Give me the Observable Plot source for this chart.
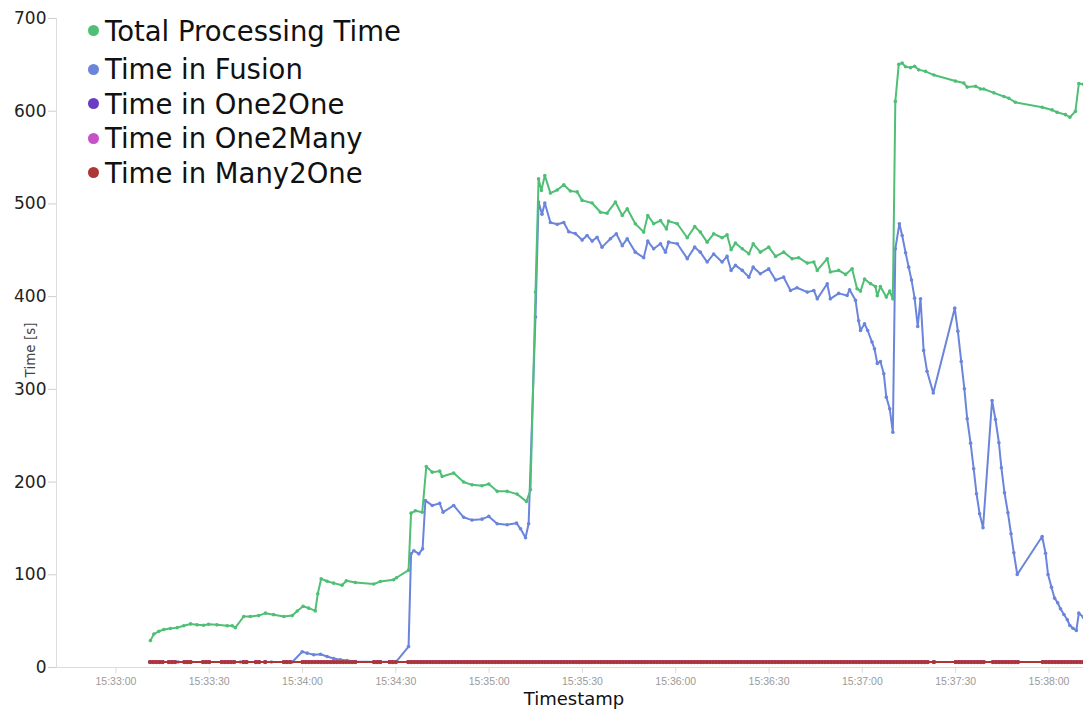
<!DOCTYPE html>
<html>
<head>
<meta charset="utf-8">
<script src="https://cdn.jsdelivr.net/npm/d3@7"></script>
<script src="https://cdn.jsdelivr.net/npm/@observablehq/plot@0.6"></script>
<style>
  html, body { margin: 0; padding: 0; background: #fff; }
  #wrap { position: relative; width: 1083px; height: 709px; font-family: "DejaVu Sans", sans-serif; overflow: hidden; }
  #legend { position: absolute; left: 88px; top: 13.5px; }
  .row { display: flex; align-items: center; height: 34.5px; font-size: 27.5px; color: #111; white-space: nowrap; }
  .row:first-child { margin-bottom: 4px; }
  .sw { width: 11px; height: 11px; border-radius: 50%; margin-right: 6px; flex: none; }
  #ylab { position: absolute; left: 30px; top: 350px; transform: translate(-50%, -50%) rotate(-90deg); font-size: 13.5px; color: #444; white-space: nowrap; }
  #xlab { position: absolute; left: 574px; top: 698px; transform: translate(-50%, -50%); font-size: 18px; color: #111; white-space: nowrap; }
</style>
</head>
<body>
<div id="wrap">
  <div id="chart"></div>
  <div id="legend"></div>
  <div id="ylab">Time [s]</div>
  <div id="xlab">Timestamp</div>
</div>
<script>
// ---- data (seconds after 15:33:00, value in s) ----
const seriesNames = ["Total Processing Time", "Time in Fusion", "Time in One2One", "Time in One2Many", "Time in Many2One"];
const seriesColors = ["#4fbf76", "#6a85db", "#6a3cc6", "#c453c6", "#ad3535"];

const xTickLabels = ["15:33:00","15:33:30","15:34:00","15:34:30","15:35:00","15:35:30","15:36:00","15:36:30","15:37:00","15:37:30","15:38:00"];
const yTicks = [0, 100, 200, 300, 400, 500, 600, 700];
const xDomainSec = [-19.1, 311.1];

const totalProcessing = [[11.1,29],[12.2,36],[13.8,39],[15.4,41],[17.5,42],[19.7,43],[21.8,45],[24.0,47],[26.1,46],[28.2,45.6],[29.8,46.7],[32.5,46],[35.8,45],[37.4,45],[38.4,43],[41.1,55],[43.2,55],[45.9,56],[48.1,58.6],[50.7,57],[54.0,55],[56.7,56],[58.3,61],[60.2,66],[62.0,64],[64.1,61],[64.9,79.5],[66.0,95.7],[67.9,93],[70.0,91],[72.7,88.8],[74.1,93.5],[77.0,91.7],[82.9,90],[85.0,92.8],[89.3,94.6],[90.2,96.8],[94.1,105],[94.9,166.5],[96.3,169],[98.5,167.5],[99.8,216.8],[101.7,210.7],[104.1,211.8],[104.9,206],[108.6,209.7],[111.8,200],[114.5,197],[117.7,196],[119.9,198],[122.6,190],[125.8,190],[129.0,187],[132.0,179],[133.3,191.7],[134.9,405],[135.9,527],[136.8,514.6],[137.9,530.7],[139.7,511.7],[141.9,515],[144.0,520.7],[146.1,514],[148.3,513],[149.9,503.8],[153.1,501],[155.8,491],[157.9,490],[160.6,502],[162.8,487.6],[164.4,494.8],[167.0,478.6],[169.7,469.6],[171.0,487.6],[172.9,478.6],[175.1,482],[177.0,473],[177.7,481.5],[180.5,478.6],[183.7,463.5],[186.1,475.7],[187.9,469.6],[190.1,458.8],[192.2,467.8],[194.9,463.5],[196.5,466.7],[197.8,450.6],[199.2,457.7],[201.4,451.6],[203.5,446.2],[204.9,457],[207.2,448],[209.9,453.4],[212.1,443.4],[214.7,448],[217.4,440.9],[219.5,442],[222.3,436.2],[224.4,437.3],[225.5,428.3],[228.7,440.9],[229.7,426.5],[232.4,428.3],[234.6,424],[236.7,430],[238.3,408.5],[239.4,406],[240.7,419],[242.6,414],[244.2,411],[244.8,401],[245.8,411],[247.7,399.5],[248.8,406],[249.8,397.6],[250.6,610.6],[251.7,650.5],[252.8,651.9],[253.9,648],[255.5,647],[256.8,648.5],[258.1,644.6],[260.3,643],[263.0,639],[269.9,632.5],[272.6,630.4],[273.7,626],[276.4,627],[278.0,624],[279.0,624],[282.3,619.8],[285.5,615.9],[287.1,614],[289.2,609.6],[297.8,604.2],[301.0,601.4],[302.6,598.8],[305.3,596.3],[306.7,593.5],[308.5,599.8],[309.6,629.8],[311.1,629]];

const fusion = [[11.1,6],[20,6],[30,6],[40,6],[50,6],[56.7,6],[59.9,17],[61.5,15.5],[63.6,13.7],[65.8,14.3],[67.9,11.9],[70.0,9.7],[72.2,8.3],[74.3,7.5],[77.0,6.5],[84,6],[90.2,6.5],[94.1,22.6],[94.9,122.6],[95.8,126],[97.4,122.6],[98.6,128],[99.5,180],[101.7,174.8],[104.1,177],[105.2,167.5],[108.6,174.8],[111.8,162],[114.5,159],[117.7,160],[119.9,163],[122.6,155],[125.8,154],[128.8,155.7],[130.1,149.6],[131.7,140],[132.7,155],[134.9,378],[135.9,502],[137.0,489],[137.9,501],[139.7,480],[141.9,478],[144.0,480],[145.6,470],[147.7,468],[149.9,461],[151.5,466],[153.1,459.9],[154.7,464],[156.3,453.4],[159.0,462.5],[160.9,467.8],[162.8,455],[164.4,462.5],[167.0,448],[169.7,442],[171.0,459.9],[172.9,451.6],[175.1,457],[176.7,448],[177.7,458.8],[180.5,457],[183.7,441],[186.1,453.4],[187.9,448],[190.1,437.3],[192.2,446],[194.9,437.3],[196.5,443.4],[197.8,428.3],[199.2,433.7],[201.4,428.3],[203.5,421],[204.9,431.8],[207.2,424.7],[209.9,430],[212.1,418],[214.7,421],[216.9,406.7],[219.0,409.6],[222.3,404.9],[224.4,406.7],[225.5,397.6],[228.7,413.9],[229.7,397.6],[232.4,403.5],[235.1,401.3],[235.9,407.5],[237.8,396],[238.8,374],[239.4,363.5],[240.7,370.8],[241.7,363.5],[243.1,351],[243.9,343.8],[244.8,328],[245.8,330],[246.9,316.8],[247.7,291.6],[248.8,279],[249.8,253.8],[250.6,451.6],[251.9,478.6],[252.8,466],[253.9,447.3],[254.9,431.8],[255.8,418],[256.8,398.4],[257.8,367.8],[258.7,397.6],[259.7,342],[260.8,319.6],[262.8,296],[269.7,387.6],[270.7,362.8],[271.8,330],[272.8,300.6],[273.7,268.3],[274.8,242],[275.8,214.3],[276.7,187.4],[277.7,165.8],[278.8,150.7],[281.7,288],[282.8,267.5],[283.9,242.4],[284.7,215.4],[285.7,188.5],[286.8,166.9],[287.8,144.2],[288.7,123.7],[289.8,100.3],[297.8,141.3],[298.9,123.3],[299.7,100.3],[300.8,86.6],[301.8,74.8],[302.8,69.8],[303.7,63.3],[304.8,57.2],[305.9,51.5],[306.7,45.3],[307.7,42.4],[308.8,39.9],[309.6,58.6],[311.1,54.3]];

// sample instants (s after 15:33:00) of the three low-level stages
const stageSampleTimes = [11,12,13,14,15,17,18,19,22,23,24,28,29,30,34,35,36,37,38,41,42,45,46,48,54,55,56,
60,61,62,63,64,65,66,67,68,69,70,71,72,73,74,75,76,77,83,84,85,88,89,90,
94,95,96,97,98,99,100,101,102,103,104,105,106,107,108,109,110,111,112,113,114,115,116,117,118,119,120,
121,122,123,124,125,126,127,128,129,130,131,132,133,134,135,136,137,138,139,140,141,142,143,144,145,146,147,148,149,150,
151,152,153,154,155,156,157,158,159,160,161,162,163,164,165,166,167,168,169,170,171,172,173,174,175,176,177,178,179,180,
181,182,183,184,185,186,187,188,189,190,191,192,193,194,195,196,197,198,199,200,201,202,203,204,205,206,207,208,209,210,
211,212,213,214,215,216,217,218,219,220,221,222,223,224,225,226,227,228,229,230,231,232,233,234,235,236,237,238,239,240,
241,242,243,244,245,246,247,248,249,250,251,252,253,254,255,256,257,258,259,260,261,263,
270,271,272,273,274,275,276,277,278,279,282,283,284,285,286,287,288,289,290,
298,299,300,301,302,303,304,305,306,307,308,309,310,311];
const one2oneLevel = 5.8;
const one2manyLevel = 5.8;
const many2oneLevel = 5.8;

// ---- build ----
const t0 = Date.UTC(2019, 0, 1, 15, 33, 0);
const toDate = s => new Date(t0 + s * 1000);
const parseHMS = str => { const [h, m, s] = str.split(":").map(Number); return new Date(Date.UTC(2019, 0, 1, h, m, s)); };
const xTicks = xTickLabels.map(parseHMS);

const pairs = arr => arr.map(([s, v]) => ({t: toDate(s), v}));
const level = val => stageSampleTimes.map(s => ({t: toDate(s), v: val}));

const series = [
  {data: pairs(totalProcessing), color: seriesColors[0], r: 1.8},
  {data: pairs(fusion), color: seriesColors[1], r: 1.8},
  {data: level(one2oneLevel), color: seriesColors[2], r: 2},
  {data: level(one2manyLevel), color: seriesColors[3], r: 2},
  {data: level(many2oneLevel), color: seriesColors[4], r: 2.1}
];
const drawOrder = [2, 3, 1, 0, 4];

const marks = [
  Plot.ruleY([0], {stroke: "#dcdcdc"}),
  Plot.ruleX([toDate(xDomainSec[0])], {stroke: "#dcdcdc"}),
  Plot.axisY({ticks: yTicks, tickSize: 8, tickPadding: 2, fontSize: 17, stroke: "#cfcfcf", fill: "#222", label: null}),
  Plot.axisX({ticks: xTicks, tickFormat: d3.utcFormat("%H:%M:%S"), tickSize: 6, tickPadding: 4, fontSize: 10.5, fontFamily: "Liberation Sans", stroke: "#dcdcdc", fill: "#9a9a9a", label: null})
];
for (const i of drawOrder) {
  const s = series[i];
  marks.push(Plot.line(s.data, {x: "t", y: "v", stroke: s.color, strokeWidth: 2}));
  marks.push(Plot.dot(s.data, {x: "t", y: "v", r: s.r, fill: s.color, stroke: "none"}));
}

const chart = Plot.plot({
  width: 1083,
  height: 709,
  marginLeft: 56,
  marginRight: 0,
  marginTop: 18,
  marginBottom: 42,
  style: {fontFamily: "DejaVu Sans", background: "#fff", overflow: "visible"},
  x: {type: "utc", domain: xDomainSec.map(toDate)},
  y: {domain: [0, 700]},
  marks
});
document.getElementById("chart").append(chart);

const legend = document.getElementById("legend");
seriesNames.forEach((name, i) => {
  const row = document.createElement("div");
  row.className = "row";
  const sw = document.createElement("span");
  sw.className = "sw";
  sw.style.background = seriesColors[i];
  const tx = document.createElement("span");
  tx.textContent = name;
  row.append(sw, tx);
  legend.append(row);
});
</script>
</body>
</html>
